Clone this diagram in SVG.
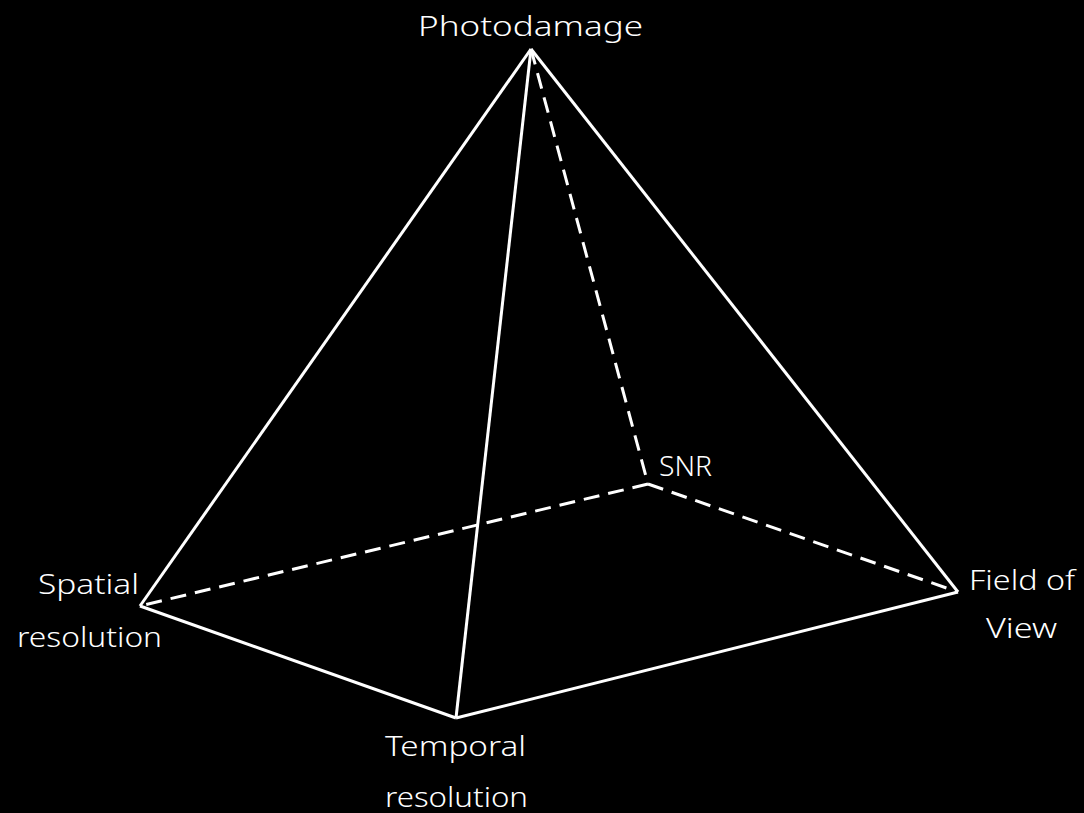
<svg xmlns="http://www.w3.org/2000/svg" width="1084" height="813" viewBox="0 0 1084 813">
<style>
text{font-family:"Noto Sans","DejaVu Sans",sans-serif;font-size:28px;fill:#fff;font-weight:300}
.s{stroke:#fff;stroke-width:3;fill:none;stroke-linecap:butt}
.d{stroke-dasharray:16 9}
</style>
<rect width="1084" height="813" fill="#000"/>
<g id="connectors">
<line class="s d" x1="531" y1="49" x2="648" y2="484"/>
<line class="s d" x1="648" y1="484" x2="140" y2="606"/>
<line class="s d" x1="648" y1="484" x2="958" y2="592"/>
<line class="s" x1="531" y1="49" x2="140" y2="606"/>
<line class="s" x1="531" y1="49" x2="456" y2="718"/>
<line class="s" x1="531" y1="49" x2="958" y2="592"/>
<line class="s" x1="140" y1="606" x2="456" y2="718"/>
<line class="s" x1="456" y1="718" x2="958" y2="592"/>
</g>
<g id="photodamage"><text x="418" y="36" textLength="225" lengthAdjust="spacingAndGlyphs">Photodamage</text></g>
<g id="snr"><text x="659" y="476" textLength="53" lengthAdjust="spacingAndGlyphs">SNR</text></g>
<g id="spatial"><text x="38" y="594" textLength="101" lengthAdjust="spacingAndGlyphs">Spatial</text><text x="17" y="647" textLength="145" lengthAdjust="spacingAndGlyphs">resolution</text></g>
<g id="fov"><text x="969" y="590" textLength="106" lengthAdjust="spacingAndGlyphs">Field of</text><text x="986" y="638" textLength="71" lengthAdjust="spacingAndGlyphs">View</text></g>
<g id="temporal"><text x="385" y="756" textLength="141" lengthAdjust="spacingAndGlyphs">Temporal</text><text x="385" y="807" textLength="143" lengthAdjust="spacingAndGlyphs">resolution</text></g>
</svg>
